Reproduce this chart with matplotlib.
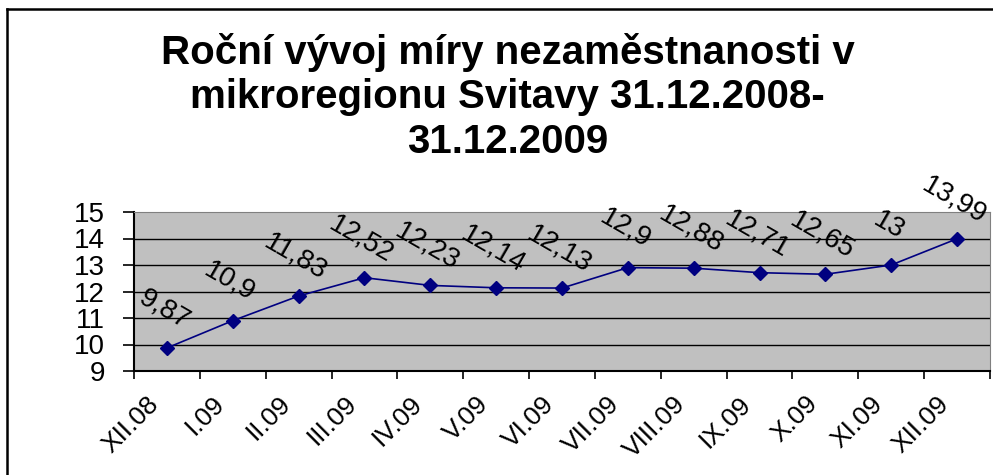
import numpy as np
import matplotlib
matplotlib.use("Agg")
import matplotlib.pyplot as plt
import matplotlib.transforms as mtransforms
from matplotlib.lines import Line2D

plt.rcParams["font.family"] = ["Liberation Sans", "DejaVu Sans"]

# data
mesice = ["XII.08", "I.09", "II.09", "III.09", "IV.09", "V.09", "VI.09",
          "VII.09", "VIII.09", "IX.09", "X.09", "XI.09", "XII.09"]
mira = [9.87, 10.9, 11.83, 12.52, 12.23, 12.14, 12.13,
        12.9, 12.88, 12.71, 12.65, 13, 13.99]
popisky = ["9,87", "10,9", "11,83", "12,52", "12,23", "12,14", "12,13",
           "12,9", "12,88", "12,71", "12,65", "13", "13,99"]

fig = plt.figure(figsize=(9.93, 4.75), dpi=100)
ax = fig.add_axes([134/993, 1-371/475, (990-134)/993, (371-212)/475])
ax.set_facecolor("#C0C0C0")

x = np.arange(len(mira))
ax.plot(x, mira, color="#000080", lw=1.2, marker="D", markersize=7,
        markerfacecolor="#000080", markeredgecolor="#000080", zorder=3)

for xi, yi, t in zip(x, mira, popisky):
    ax.annotate(t, (xi, yi), xytext=(-2, 28), textcoords="offset points",
                ha="center", va="center", rotation=-30, fontsize=20,
                annotation_clip=False, zorder=4)

ax.set_xlim(-0.5, len(mira) - 0.5)
ax.set_ylim(9, 15)
ax.set_yticks(range(9, 16))
for yy in range(10, 15):
    ax.axhline(yy, color="black", lw=1, zorder=1)

ax.set_xticks(np.arange(-0.5, len(mira), 1))
ax.set_xticklabels([])
ax.set_xticks(x, minor=True)
ax.set_xticklabels(mesice, minor=True, rotation=45, ha="right", va="center",
                   rotation_mode="anchor", fontsize=19)
ax.tick_params(axis="x", which="minor", length=0, pad=21)
ax.tick_params(axis="x", which="major", length=6, width=1.2, direction="out")
ax.tick_params(axis="y", length=8, width=1.2, labelsize=20, pad=13)

# posun popisku osy x doleva
posun = mtransforms.ScaledTranslation(-12/100, 0, fig.dpi_scale_trans)
for lab in ax.get_xticklabels(minor=True):
    lab.set_transform(lab.get_transform() + posun)

ax.spines["left"].set_linewidth(1.5)
ax.spines["bottom"].set_linewidth(1.5)
ax.spines["top"].set_color("#808080")
ax.spines["right"].set_color("#808080")

fig.text(0.511, 1 - 97/475,
         "Roční vývoj míry nezaměstnanosti v\nmikroregionu Svitavy 31.12.2008-\n31.12.2009",
         ha="center", va="center", fontsize=29, fontweight="bold", linespacing=1.21)

# outer frame
fig.add_artist(Line2D([7/993, 7/993], [0, 1 - 9/475], color="black", lw=1.8,
                      transform=fig.transFigure))
fig.add_artist(Line2D([7/993, 1], [1 - 9/475, 1 - 9/475], color="black", lw=1.8,
                      transform=fig.transFigure))

fig.savefig("out.png", dpi=100)
